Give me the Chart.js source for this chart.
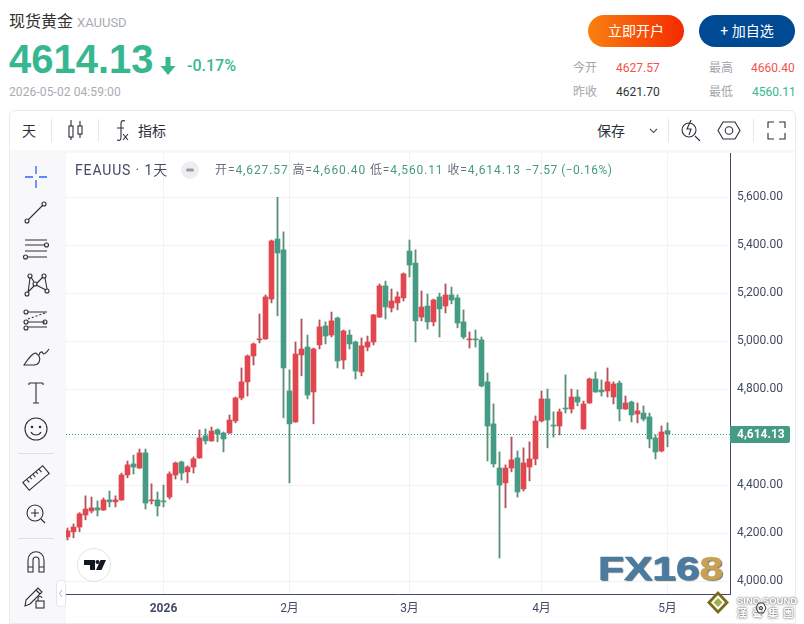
<!DOCTYPE html>
<html lang="zh">
<head>
<meta charset="utf-8">
<title>现货黄金 XAUUSD</title>
<script src="https://cdn.jsdelivr.net/npm/chart.js@4/dist/chart.umd.min.js"></script>
<style>
  html, body { margin: 0; padding: 0; background: #fff; }
  body { position: relative; width: 804px; height: 624px; overflow: hidden; font-family: Roboto, "Noto Sans CJK SC", sans-serif; }
  .t { position: absolute; white-space: nowrap; line-height: 1; }
  .btn { position: absolute; top: 15px; width: 96px; height: 32px; border-radius: 16px; color: #fff; font-size: 14px; line-height: 32px; text-align: center; }
  #card { position: absolute; left: 9px; top: 110px; width: 785px; height: 512px; border: 1px solid #eaebef; border-radius: 6px 6px 0 0; box-sizing: content-box; }
  #strip { position: absolute; left: 10px; top: 150px; width: 784px; height: 3px; background: #f7f7f9; }
  #leftbar { position: absolute; left: 10px; top: 150px; width: 56px; height: 473px; background: #f8f8fa; }
  #chartWrap { position: absolute; left: 66px; top: 153px; width: 728px; height: 469px; }
  #legend { position: absolute; left: 215px; top: 164px; font-size: 12px; line-height: 13px; color: #6a6f80; white-space: nowrap; letter-spacing: .9px; }
  #legend b { font-weight: 400; color: #479b84; }
  #legend .chg { letter-spacing: .5px; }
  svg { position: absolute; overflow: visible; }
  #fx { position: absolute; left: 598px; top: 552px; font: bold 34px "Liberation Sans", sans-serif; line-height: 32px; color: #4a7ba0; transform: scaleX(1.25); transform-origin: left top; text-shadow: 1px 1px 1px #6b6b6b; -webkit-text-stroke: .6px #4a7ba0; }
  #fx span { color: #c8a253; -webkit-text-stroke: .6px #c8a253; }
  #sino { position: absolute; left: 737px; top: 595px; color: #fff; font: bold 9.500px "Liberation Sans", sans-serif; line-height: 12px; text-shadow: 0 0 2px #777, 0 0 3px #777; white-space: nowrap; }
</style>
</head>
<body>
<div class="t" style="left:9px;top:14px;font-size:16px;color:#333">现货黄金</div>
<div class="t" style="left:77px;top:16px;font-size:13px;color:#a8abb3">XAUUSD</div>
<div class="t" id="lastPrice" style="left:9px;top:37px;font:bold 40px 'Liberation Sans',sans-serif;color:#37b78f"></div>
<svg style="left:160px;top:56px" width="16" height="20"><path d="M5.500 1h5v9h5L8 19 .5 10h5z" fill="#37b78f"/></svg>
<div class="t" style="left:187px;top:58px;font-size:16px;font-weight:500;color:#37b78f">-0.17%</div>
<div class="t" style="left:9px;top:86px;font-size:12px;color:#a8abb3;letter-spacing:.1px">2026-05-02 04:59:00</div>

<div class="btn" style="left:588px;background:linear-gradient(90deg,#f98010,#f52a00)">立即开户</div>
<div class="btn" style="left:699px;background:#004a93">+ 加自选</div>

<div class="t" style="left:573px;top:62px;font-size:12px;color:#a3a6ad">今开</div>
<div class="t" style="left:616px;top:62px;font-size:12px;color:#f4524a">4627.57</div>
<div class="t" style="left:709px;top:62px;font-size:12px;color:#a3a6ad">最高</div>
<div class="t" style="left:751px;top:62px;font-size:12px;color:#f4524a">4660.40</div>
<div class="t" style="left:573px;top:86px;font-size:12px;color:#a3a6ad">昨收</div>
<div class="t" style="left:616px;top:86px;font-size:12px;color:#333">4621.70</div>
<div class="t" style="left:709px;top:86px;font-size:12px;color:#a3a6ad">最低</div>
<div class="t" style="left:752px;top:86px;font-size:12px;color:#37b78f">4560.11</div>

<div id="card"></div>
<div id="strip"></div>
<div id="leftbar"></div>

<div class="t" style="left:22px;top:124px;font-size:14px;color:#2a2e39">天</div>
<div class="t" style="left:138px;top:124px;font-size:14px;color:#2a2e39">指标</div>
<div class="t" style="left:597px;top:124px;font-size:14px;color:#2a2e39">保存</div>

<!-- top toolbar icons -->
<svg style="left:0;top:0" width="804" height="150" fill="none" stroke="#2a2e39" stroke-width="1.1">
  <path d="M51.500 119v23M98.500 119v23M668.500 119v23M753.500 119v23" stroke="#e6e7eb"/>
  <path d="M71 120v6M71 137v3M80 121v5M80 134v4"/>
  <rect x="69" y="126" width="4" height="11"/><rect x="78" y="126" width="4" height="8"/>
  <path d="M125 121c-3-1-4 0-4 3v13c0 3-1 4-4 3M117 128h7M123 134l5 6M128 134l-5 6"/>
  <path d="M650 129l3.500 3.500 3.500-3.500" stroke="#555"/>
  <circle cx="689" cy="130" r="7"/><path d="M695 136l5 5M691 120l-4 9h4l-2 6" />
  <path d="M718 130.500l5-8.500h12l5 8.500-5 8.500h-12z"/><circle cx="729" cy="130.500" r="3.800"/>
  <path d="M768 128v-6h6M779 122h6v6M785 133v6h-6M774 139h-6v-6"/>
</svg>

<div id="chartWrap"><canvas id="goldChart" width="728" height="469" style="width:728px;height:469px"></canvas></div>

<div class="t" style="left:75px;top:163px;font-size:14px;color:#434a68;letter-spacing:.85px">FEAUUS · 1天</div>
<svg style="left:181px;top:161px" width="18" height="18"><circle cx="9" cy="9" r="9" fill="#eeeef0"/><rect x="5" y="7.500" width="8" height="3" rx="1.500" fill="#9a9ca5"/></svg>
<div id="legend"></div>

<!-- left drawing tools -->
<svg style="left:0;top:0" width="66" height="624" fill="none" stroke="#2a2e39" stroke-width="1.1">
  <path d="M36 166v8M36 180v8M25 177h8M39 177h8" stroke="#2962ff" stroke-width="1.300"/>
  <g transform="translate(36 212)"><circle cx="-9" cy="9" r="2"/><circle cx="8" cy="-8" r="2"/><path d="M-7.500 7.500L6.500-6.500"/></g>
  <g transform="translate(36 248)"><path d="M-11-8H11M-11-3H9M-11 3H11M-8 9H11"/><circle cx="10.500" cy="-3" r="2"/><circle cx="-10.500" cy="9" r="2"/></g>
  <g transform="translate(36 285)"><circle cx="-6" cy="-9" r="2"/><circle cx="8" cy="-9" r="2"/><circle cx="-1" cy="-1" r="2"/><circle cx="-9" cy="9" r="2"/><circle cx="11" cy="6" r="2"/><path d="M-8 8L-6-7M-5-8L-2-3M1-2L7-8M9-7L11 4M0 0L10 5M-8 7L-2 1"/></g>
  <g transform="translate(36 322)"><path d="M-8-10H11M-8 0H9M-8 5H11"/><path d="M-8-3L9-9" stroke-dasharray="2 2"/><circle cx="-10" cy="-10" r="2"/><circle cx="-10" cy="0" r="2"/><circle cx="-10" cy="6" r="2"/><circle cx="9" cy="0" r="2"/></g>
  <g transform="translate(36 357)"><path d="M-12 8H-2C3 8 5 3 3-1L0-4C-4-4-8 2-12 8zM3-2C4-6 7-6 7-3M7-3C9-3 11-5 13-8"/></g>
  <g transform="translate(36 393)"><path d="M-7-10H7M0-10V10M-3 10H3M-7-10V-8M7-10V-8"/></g>
  <g transform="translate(36 429)"><circle r="11"/><circle cx="-4" cy="-2" r=".7"/><circle cx="4" cy="-2" r=".7"/><path d="M-5 3C-3 7 3 7 5 3"/></g>
  <path d="M18 453.500H54M18 538.500H54" stroke="#dfe0e6"/>
  <g transform="translate(36 478) rotate(-40)"><rect x="-13" y="-5" width="26" height="10"/><path d="M-8-5v4M-4-5v3M0-5v4M4-5v3M8-5v4"/></g>
  <g transform="translate(35 513)"><circle cx="0" cy="0" r="8"/><path d="M-4 0H4M0-4V4M6 6L10 10"/></g>
  <g transform="translate(36 562)"><path d="M-8 10V-2C-8-13 8-13 8-2V10H3V-2C3-6-3-6-3-2V10zM-8 5H-3M3 5H8"/></g>
  <g transform="translate(33 596)"><path d="M-8 10L-7 4 5-8 9-4-3 8zM3-6L7-2"/><rect x="3" y="5" width="8" height="7"/><path d="M5 5V2C5 0 9 0 9 2" /></g>
</svg>
<svg style="left:56px;top:580px" width="10" height="27"><rect x=".5" y=".5" width="9" height="26" rx="3" fill="#fff" stroke="#e4e5ea"/><path d="M6 10l-2.500 3.500L6 17" fill="none" stroke="#b0b3bb"/></svg>

<!-- TradingView badge -->
<svg style="left:77px;top:548px" width="34" height="34"><circle cx="17" cy="17" r="16.500" fill="#fff" stroke="#e0e3eb"/><path d="M7 12h11v10h-5v-5H7zM19 22l4.500-10H29l-4.500 10z" fill="#131722"/><circle cx="20.500" cy="14" r="2" fill="#131722"/></svg>

<div id="fx">FX16<span>8</span></div>
<svg style="left:706px;top:590px" width="24" height="26"><path d="M12 1l11 11.500L12 24 1 12.500z" fill="#7a6a1c"/><path d="M12 5l7 7.500L12 20l-7-7.500z" fill="#fff"/><path d="M12 8l4.500 4.500L12 17l-4.500-4.500z" fill="#9db04a"/></svg>
<div id="sino">SINO SOUND<br><span style="letter-spacing:5.500px;font-family:'Noto Sans CJK TC',sans-serif;font-size:10px">漢聲集團</span></div>
<svg style="left:755px;top:602px" width="12" height="12" fill="none" stroke="#2a2e39"><path d="M1 6l2.500-5h5L11 6 8.500 11h-5z"/><circle cx="6" cy="6" r="1.500"/></svg>

<script>
// daily candles, oldest first; last one is the quote shown in the header
const opens = [4185,4206,4226,4276,4293,4306,4297,4339,4331,4339,4443,4489,4472,4535,4335,4339,4335,4351,4443,4497,4456,4476,4514,4606,4585,4631,4618,4618,4668,4764,4831,4939,5006,5010,5176,5426,5381,4793,4664,4943,4976,4789,4985,5064,5026,5097,4922,5026,4997,4872,4976,4997,5101,5231,5139,5160,5181,5376,5326,5101,5147,5081,5185,5147,5193,5181,5081,5006,5010,5006,4831,4656,4472,4410,4472,4514,4385,4476,4510,4668,4760,4651,4647,4722,4718,4768,4635,4743,4843,4797,4793,4768,4826,4718,4747,4697,4701,4685,4597,4543,4627.57];
const highs = [4222,4239,4286,4356,4351,4335,4347,4376,4356,4451,4501,4526,4551,4551,4406,4372,4401,4456,4497,4501,4481,4518,4631,4635,4643,4635,4622,4693,4768,4889,4943,4993,5114,5193,5422,5600,5456,4881,4997,5093,5026,4972,5089,5081,5122,5101,5047,5047,5001,5014,5022,5112,5239,5251,5218,5206,5285,5422,5381,5210,5197,5176,5201,5239,5226,5193,5131,5039,5047,5018,4868,4739,4539,4485,4601,4543,4556,4581,4689,4793,4801,4706,4718,4860,4801,4797,4751,4847,4872,4839,4889,4831,4835,4772,4751,4743,4731,4701,4610,4647,4660.40];
const lows = [4172,4181,4206,4256,4285,4272,4295,4310,4310,4337,4431,4447,4470,4301,4322,4272,4310,4343,4426,4422,4410,4451,4512,4572,4583,4581,4539,4616,4660,4756,4772,4901,4993,5008,5160,5106,4681,4410,4662,4856,4760,4656,4968,4989,5018,4889,4885,4968,4843,4856,4960,4985,5099,5093,5122,5131,5168,5268,4997,5085,5051,5064,5018,5118,5156,5056,5010,4972,4976,4810,4501,4476,4097,4306,4456,4351,4376,4418,4485,4664,4556,4601,4610,4701,4701,4731,4633,4741,4787,4772,4768,4739,4668,4716,4664,4660,4668,4556,4510,4539,4560.11];
const closes = [4210,4226,4281,4301,4306,4297,4339,4331,4339,4443,4485,4476,4535,4326,4339,4314,4331,4447,4493,4451,4476,4510,4597,4585,4626,4614,4593,4672,4764,4831,4939,4989,5010,5185,5418,5368,4889,4656,4947,4968,4776,4968,5060,5022,5085,4918,5043,4989,4876,4981,4997,5110,5231,5143,5168,5185,5281,5318,5085,5143,5081,5172,5135,5193,5172,5076,5018,5010,5006,4814,4647,4489,4401,4472,4506,4372,4493,4510,4668,4760,4672,4647,4706,4718,4768,4747,4739,4843,4789,4789,4831,4822,4718,4743,4693,4710,4676,4593,4539,4622,4614.13];
const prevClose = 4621.70;

// x axis labels and the candle they sit under
const tickCandles = [16, 37, 57, 79, 100];
const tickLabels = ['2026', '2月', '3月', '4月', '5月'];
const priceTicks = [4000, 4200, 4400, 4600, 4800, 5000, 5200, 5400, 5600];

const UP = '#e2474f', DOWN = '#469b84';
const UP_WICK = '#b4535c', DOWN_WICK = '#5b9277';
const AXIS = '#434a68', GRID = '#f1f2f4';

const fmt = v => v.toLocaleString('en-US', { minimumFractionDigits: 2, maximumFractionDigits: 2 });

const last = opens.length - 1;
const lastClose = closes[last];
const change = lastClose - prevClose;
document.getElementById('lastPrice').textContent = lastClose.toFixed(2);
document.getElementById('legend').innerHTML =
  `开=<b>${fmt(opens[last])}</b> 高=<b>${fmt(highs[last])}</b> 低=<b>${fmt(lows[last])}</b> 收=<b>${fmt(lastClose)}</b> ` +
  `<b class="chg">&minus;${fmt(Math.abs(change))} (&minus;${(Math.abs(change) / prevClose * 100).toFixed(2)}%)</b>`;

const isUp = i => closes[i] >= opens[i];

// current price dotted line sits under the candles, its badge over the axis
const lastPriceLine = {
  id: 'lastPriceLine',
  beforeDatasetsDraw(chart) {
    const { ctx, chartArea: { left, right }, scales: { y } } = chart;
    const py = Math.round(y.getPixelForValue(lastClose)) + 0.5;
    ctx.save();
    ctx.strokeStyle = '#2f9b7c';
    ctx.lineWidth = 1;
    ctx.setLineDash([1, 2]);
    ctx.beginPath();
    ctx.moveTo(left, py);
    ctx.lineTo(right, py);
    ctx.stroke();
    ctx.restore();
  },
  afterDraw(chart) {
    const { ctx, chartArea: { right }, scales: { y } } = chart;
    const py = Math.round(y.getPixelForValue(lastClose));
    ctx.save();
    ctx.fillStyle = DOWN;
    ctx.beginPath();
    ctx.roundRect(right, py - 8, 60, 17, [0, 2, 2, 0]);
    ctx.fill();
    ctx.fillStyle = '#fff';
    ctx.font = 'bold 12px Roboto, sans-serif';
    ctx.textBaseline = 'middle';
    ctx.fillText(fmt(lastClose), right + 7, py + 1);
    ctx.restore();
  }
};

new Chart(document.getElementById('goldChart'), {
  type: 'bar',
  data: {
    datasets: [
      {
        label: 'body',
        order: 1,
        grouped: false,
        barThickness: 5,
        borderWidth: 0,
        borderSkipped: false,
        backgroundColor: opens.map((_, i) => isUp(i) ? UP : DOWN),
        data: opens.map((o, i) => ({ x: i, y: [o, closes[i]] })),
      },
      {
        label: 'wick',
        order: 2,
        grouped: false,
        barThickness: 1.2,
        borderWidth: 0,
        borderSkipped: false,
        backgroundColor: opens.map((_, i) => isUp(i) ? UP_WICK : DOWN_WICK),
        data: lows.map((l, i) => ({ x: i, y: [l, highs[i]] })),
      }
    ]
  },
  options: {
    responsive: false,
    animation: false,
    devicePixelRatio: 1,
    layout: { padding: 0 },
    plugins: { legend: { display: false }, tooltip: { enabled: false } },
    scales: {
      x: {
        type: 'linear',
        min: -0.25,
        max: 110.417,
        offset: false,
        afterBuildTicks: axis => { axis.ticks = tickCandles.map(value => ({ value })); },
        afterFit: axis => { axis.height = 28; axis.paddingLeft = 0; axis.paddingRight = 0; },
        grid: { color: GRID, drawTicks: false, offset: false },
        border: { color: AXIS, width: 1 },
        ticks: {
          autoSkip: false,
          maxRotation: 0,
          padding: 8,
          color: AXIS,
          font: ctx => ({ family: 'Roboto, "Noto Sans CJK SC", sans-serif', size: 12, weight: ctx.index === 0 ? 'bold' : 'normal' }),
          callback: (v, i) => tickLabels[i],
        }
      },
      y: {
        position: 'right',
        min: 3947,
        max: 5784.6,
        afterBuildTicks: axis => { axis.ticks = priceTicks.map(value => ({ value })); },
        afterFit: axis => { axis.width = 64; axis.paddingTop = 0; axis.paddingBottom = 0; },
        grid: { color: GRID, drawTicks: false },
        border: { color: AXIS, width: 1 },
        ticks: {
          padding: 7,
          color: AXIS,
          font: { family: 'Roboto, sans-serif', size: 12 },
          callback: v => fmt(v),
        }
      }
    }
  },
  plugins: [lastPriceLine]
});
</script>
</body>
</html>
